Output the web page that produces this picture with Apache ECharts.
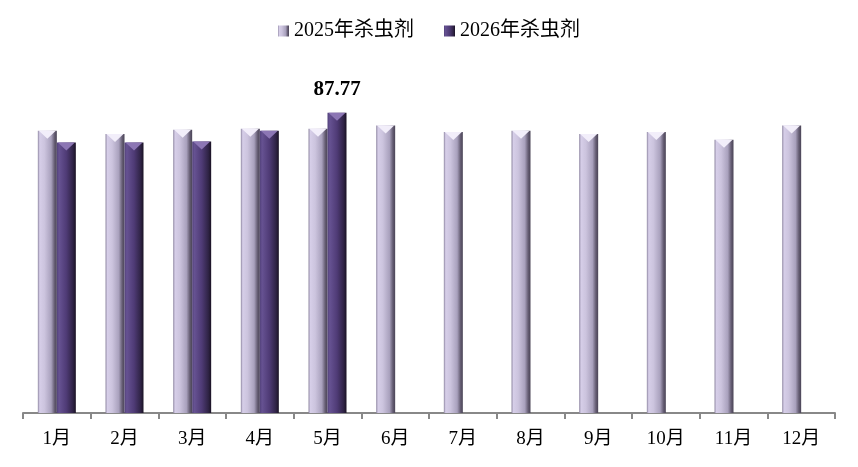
<!DOCTYPE html>
<html>
<head>
<meta charset="utf-8">
<script src="https://cdn.jsdelivr.net/npm/echarts@6/dist/echarts.min.js"></script>
<style>
  html, body { margin: 0; padding: 0; background: #fff; }
  #main { width: 858px; height: 467px; }
</style>
</head>
<body>
<div id="main"></div>
<script>
// 월별 살충제 지수
var months = ['1月', '2月', '3月', '4月', '5月', '6月', '7月', '8月', '9月', '10月', '11月', '12月'];
var seriesNames = ['2025年杀虫剂', '2026年杀虫剂'];
var values2025 = [82.5, 81.6, 82.8, 83.1, 83.1, 84.1, 82.2, 82.5, 81.6, 82.2, 79.9, 84.1];
var values2026 = [79.1, 79.1, 79.4, 82.5, 87.77, null, null, null, null, null, null, null];
var labelIndex = 4;

var font = '"Liberation Serif", "Times New Roman", "Noto Sans CJK SC", serif';

function hGrad(stops) {
  return new echarts.graphic.LinearGradient(0, 0, 1, 0, stops.map(function (s) {
    return { offset: s[0], color: s[1] };
  }));
}

var lightFill = hGrad([[0, '#8f87a2'], [0.1, '#d6cee8'], [0.35, '#ccc4de'], [0.7, '#a9a1bd'], [0.88, '#645c72'], [1, '#4a4456']]);
var darkFill = hGrad([[0, '#52417a'], [0.12, '#665292'], [0.5, '#4f3b76'], [0.85, '#2f2345'], [1, '#1a1224']]);
var capPath = 'path://M0,0 L10,0 L5,5 Z';

var data2026 = values2026.map(function (v, i) {
  if (i === labelIndex) {
    return {
      value: v,
      label: {
        show: true, position: 'top', distance: 13,
        fontFamily: font, fontSize: 21, fontWeight: 'bold', color: '#000'
      }
    };
  }
  return v;
});

var chart = echarts.init(document.getElementById('main'));
var option = {
  animation: false,
  legend: {
    data: seriesNames,
    top: 16,
    left: 'center',
    itemWidth: 11,
    itemHeight: 11,
    itemGap: 30,
    icon: 'rect',
    textStyle: { fontFamily: font, fontSize: 20, color: '#000' }
  },
  grid: { left: 23, right: 23, top: 71, bottom: 54 },
  xAxis: {
    type: 'category',
    data: months,
    axisLine: { lineStyle: { color: '#888', width: 2 } },
    axisTick: { show: true, interval: 0, length: 6, lineStyle: { color: '#888', width: 2 } },
    axisLabel: { fontFamily: font, fontSize: 19, color: '#000', margin: 17 }
  },
  yAxis: {
    type: 'value', min: 0, max: 100,
    show: false, splitLine: { show: false }
  },
  series: [
    {
      name: seriesNames[0], type: 'bar', data: values2025,
      barWidth: 19, barGap: '0%',
      itemStyle: { color: lightFill }
    },
    {
      name: seriesNames[1], type: 'bar', data: data2026,
      barWidth: 19, barGap: '0%',
      itemStyle: { color: darkFill }
    },
    {
      name: seriesNames[0], type: 'pictorialBar', data: values2025,
      barWidth: 19, barGap: '0%',
      symbol: capPath, symbolPosition: 'end', symbolSize: [17, 8],
      symbolOffset: [0, 0], z: 3, silent: true,
      itemStyle: { color: '#f2eefa' }
    },
    {
      name: seriesNames[1], type: 'pictorialBar', data: values2026,
      barWidth: 19, barGap: '0%',
      symbol: capPath, symbolPosition: 'end', symbolSize: [17, 8],
      symbolOffset: [0, 0], z: 3, silent: true,
      itemStyle: { color: '#8c76b4' }
    }
  ]
};
chart.setOption(option);
</script>
</body>
</html>
